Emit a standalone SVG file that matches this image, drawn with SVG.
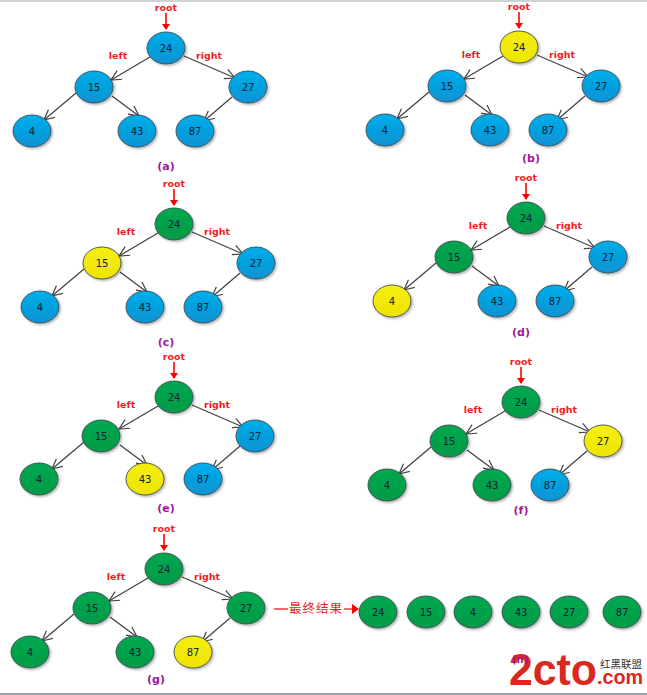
<svg xmlns="http://www.w3.org/2000/svg" xmlns:xlink="http://www.w3.org/1999/xlink" width="647" height="695" viewBox="0 0 647 695">
<style>
text{font-family:"DejaVu Sans","Liberation Sans",sans-serif;text-anchor:middle}
.n{font-size:10px;fill:#123}
.r{font-size:9.5px;font-weight:bold;fill:#f01c24}
.c{font-size:11px;font-weight:bold;fill:#a0189a}
.e{fill:none;stroke:#444;stroke-width:1.3;marker-end:url(#open)}
.ra{fill:none;stroke:#f00;stroke-width:1.6;marker-end:url(#red)}
ellipse{stroke:#3d4a50;stroke-width:.9;filter:url(#sh)}
.b{fill:url(#gb)}.g{fill:url(#gg)}.y{fill:url(#gy)}
.logo{font-family:"Liberation Sans",sans-serif;font-weight:bold;fill:#d9281e;text-anchor:start}
</style>
<defs>
<linearGradient id="gb" x1="0" y1="0" x2="0" y2="1"><stop offset="0" stop-color="#00aeea"/><stop offset="1" stop-color="#0a92d2"/></linearGradient>
<linearGradient id="gg" x1="0" y1="0" x2="0" y2="1"><stop offset="0" stop-color="#00a850"/><stop offset="1" stop-color="#079a46"/></linearGradient>
<linearGradient id="gy" x1="0" y1="0" x2="0" y2="1"><stop offset="0" stop-color="#f6ee10"/><stop offset="1" stop-color="#eee400"/></linearGradient>
<filter id="sh" x="-20%" y="-20%" width="150%" height="150%"><feDropShadow dx="1.5" dy="1.5" stdDeviation="1.2" flood-color="#000" flood-opacity=".3"/></filter>
<marker id="open" markerUnits="userSpaceOnUse" markerWidth="16" markerHeight="16" refX="11" refY="6" orient="auto"><path d="M1 1L11 6L1 11" fill="none" stroke="#444" stroke-width="1.2"/></marker>
<marker id="red" markerUnits="userSpaceOnUse" markerWidth="10" markerHeight="10" refX="5" refY="4" orient="auto"><path d="M0 0L6 4L0 8Z" fill="#f00"/></marker>
<g id="edges">
<path class="ra" d="M166 13V29"/>
<path class="e" d="M150 57L111 80"/>
<path class="e" d="M184 56L235 78"/>
<path class="e" d="M76 93L44 120"/>
<path class="e" d="M112 96L139 116"/>
<path class="e" d="M232 97L204 121"/>
</g>
<g id="lbl">
<text class="r" x="166" y="11">root</text>
<text class="r" x="118" y="59">left</text>
<text class="r" x="209" y="59">right</text>
</g>
</defs>
<rect width="647" height="2" fill="#d0d3d6"/>
<rect y="693" width="647" height="2" fill="#9aa0ae"/>
<g id="connectors">
<use href="#edges"/>
<use href="#edges" transform="translate(353,-1)"/>
<use href="#edges" transform="translate(8,176)"/>
<use href="#edges" transform="translate(360,170)"/>
<use href="#edges" transform="translate(8,349)"/>
<use href="#edges" transform="translate(355,354)"/>
<use href="#edges" transform="translate(-2,521)"/>
<path d="M274 609H288" stroke="#f00" stroke-width="1.2"/>
<path d="M344 609H354" stroke="#f00" stroke-width="1.2"/>
<path d="M352 604L359 609L352 614Z" fill="#f00"/>
</g>
<g id="labels">
<use href="#lbl"/>
<use href="#lbl" transform="translate(353,-1)"/>
<use href="#lbl" transform="translate(8,176)"/>
<use href="#lbl" transform="translate(360,170)"/>
<use href="#lbl" transform="translate(8,349)"/>
<use href="#lbl" transform="translate(355,354)"/>
<use href="#lbl" transform="translate(-2,521)"/>
<text class="c" x="166" y="170">(a)</text>
<text class="c" x="531" y="162">(b)</text>
<text class="c" x="166" y="346">(c)</text>
<text class="c" x="521" y="336">(d)</text>
<text class="c" x="166" y="512">(e)</text>
<text class="c" x="521" y="514">(f)</text>
<text class="c" x="156" y="683">(g)</text>
<text x="316" y="613" style="font-family:'Noto Sans CJK SC',sans-serif;font-size:12.5px;fill:#f01c24;letter-spacing:1px">最终结果</text>
</g>
<g id="a-24" transform="translate(166,48)"><ellipse class="b" rx="19" ry="16"/><text class="n" y="4">24</text></g>
<g id="a-15" transform="translate(94,87)"><ellipse class="b" rx="19" ry="16"/><text class="n" y="4">15</text></g>
<g id="a-27" transform="translate(248,87)"><ellipse class="b" rx="19" ry="16"/><text class="n" y="4">27</text></g>
<g id="a-4" transform="translate(32,131)"><ellipse class="b" rx="19" ry="16"/><text class="n" y="4">4</text></g>
<g id="a-43" transform="translate(137,131)"><ellipse class="b" rx="19" ry="16"/><text class="n" y="4">43</text></g>
<g id="a-87" transform="translate(195,131)"><ellipse class="b" rx="19" ry="16"/><text class="n" y="4">87</text></g>
<g id="b-24" transform="translate(519,47)"><ellipse class="y" rx="19" ry="16"/><text class="n" y="4">24</text></g>
<g id="b-15" transform="translate(447,86)"><ellipse class="b" rx="19" ry="16"/><text class="n" y="4">15</text></g>
<g id="b-27" transform="translate(601,86)"><ellipse class="b" rx="19" ry="16"/><text class="n" y="4">27</text></g>
<g id="b-4" transform="translate(385,130)"><ellipse class="b" rx="19" ry="16"/><text class="n" y="4">4</text></g>
<g id="b-43" transform="translate(490,130)"><ellipse class="b" rx="19" ry="16"/><text class="n" y="4">43</text></g>
<g id="b-87" transform="translate(548,130)"><ellipse class="b" rx="19" ry="16"/><text class="n" y="4">87</text></g>
<g id="c-24" transform="translate(174,224)"><ellipse class="g" rx="19" ry="16"/><text class="n" y="4">24</text></g>
<g id="c-15" transform="translate(102,263)"><ellipse class="y" rx="19" ry="16"/><text class="n" y="4">15</text></g>
<g id="c-27" transform="translate(256,263)"><ellipse class="b" rx="19" ry="16"/><text class="n" y="4">27</text></g>
<g id="c-4" transform="translate(40,307)"><ellipse class="b" rx="19" ry="16"/><text class="n" y="4">4</text></g>
<g id="c-43" transform="translate(145,307)"><ellipse class="b" rx="19" ry="16"/><text class="n" y="4">43</text></g>
<g id="c-87" transform="translate(203,307)"><ellipse class="b" rx="19" ry="16"/><text class="n" y="4">87</text></g>
<g id="d-24" transform="translate(526,218)"><ellipse class="g" rx="19" ry="16"/><text class="n" y="4">24</text></g>
<g id="d-15" transform="translate(454,257)"><ellipse class="g" rx="19" ry="16"/><text class="n" y="4">15</text></g>
<g id="d-27" transform="translate(608,257)"><ellipse class="b" rx="19" ry="16"/><text class="n" y="4">27</text></g>
<g id="d-4" transform="translate(392,301)"><ellipse class="y" rx="19" ry="16"/><text class="n" y="4">4</text></g>
<g id="d-43" transform="translate(497,301)"><ellipse class="b" rx="19" ry="16"/><text class="n" y="4">43</text></g>
<g id="d-87" transform="translate(555,301)"><ellipse class="b" rx="19" ry="16"/><text class="n" y="4">87</text></g>
<g id="e-24" transform="translate(174,397)"><ellipse class="g" rx="19" ry="16"/><text class="n" y="4">24</text></g>
<g id="e-15" transform="translate(101,436)"><ellipse class="g" rx="19" ry="16"/><text class="n" y="4">15</text></g>
<g id="e-27" transform="translate(255,436)"><ellipse class="b" rx="19" ry="16"/><text class="n" y="4">27</text></g>
<g id="e-4" transform="translate(39,479)"><ellipse class="g" rx="19" ry="16"/><text class="n" y="4">4</text></g>
<g id="e-43" transform="translate(145,479)"><ellipse class="y" rx="19" ry="16"/><text class="n" y="4">43</text></g>
<g id="e-87" transform="translate(203,479)"><ellipse class="b" rx="19" ry="16"/><text class="n" y="4">87</text></g>
<g id="f-24" transform="translate(521,402)"><ellipse class="g" rx="19" ry="16"/><text class="n" y="4">24</text></g>
<g id="f-15" transform="translate(449,441)"><ellipse class="g" rx="19" ry="16"/><text class="n" y="4">15</text></g>
<g id="f-27" transform="translate(603,441)"><ellipse class="y" rx="19" ry="16"/><text class="n" y="4">27</text></g>
<g id="f-4" transform="translate(387,485)"><ellipse class="g" rx="19" ry="16"/><text class="n" y="4">4</text></g>
<g id="f-43" transform="translate(492,485)"><ellipse class="g" rx="19" ry="16"/><text class="n" y="4">43</text></g>
<g id="f-87" transform="translate(550,485)"><ellipse class="b" rx="19" ry="16"/><text class="n" y="4">87</text></g>
<g id="g-24" transform="translate(164,569)"><ellipse class="g" rx="19" ry="16"/><text class="n" y="4">24</text></g>
<g id="g-15" transform="translate(92,608)"><ellipse class="g" rx="19" ry="16"/><text class="n" y="4">15</text></g>
<g id="g-27" transform="translate(246,608)"><ellipse class="g" rx="19" ry="16"/><text class="n" y="4">27</text></g>
<g id="g-4" transform="translate(30,652)"><ellipse class="g" rx="19" ry="16"/><text class="n" y="4">4</text></g>
<g id="g-43" transform="translate(135,652)"><ellipse class="g" rx="19" ry="16"/><text class="n" y="4">43</text></g>
<g id="g-87" transform="translate(193,652)"><ellipse class="y" rx="19" ry="16"/><text class="n" y="4">87</text></g>
<g id="n-24" transform="translate(378,612)"><ellipse class="g" rx="19" ry="16"/><text class="n" y="4">24</text></g>
<g id="n-15" transform="translate(426,612)"><ellipse class="g" rx="19" ry="16"/><text class="n" y="4">15</text></g>
<g id="n-4" transform="translate(473,612)"><ellipse class="g" rx="19" ry="16"/><text class="n" y="4">4</text></g>
<g id="n-43" transform="translate(521,612)"><ellipse class="g" rx="19" ry="16"/><text class="n" y="4">43</text></g>
<g id="n-27" transform="translate(569,612)"><ellipse class="g" rx="19" ry="16"/><text class="n" y="4">27</text></g>
<g id="n-87" transform="translate(622,612)"><ellipse class="g" rx="19" ry="16"/><text class="n" y="4">87</text></g>
<g id="logo">
<text class="logo" x="509" y="685" font-size="44" textLength="88" lengthAdjust="spacingAndGlyphs">2cto</text>
<text class="logo" x="597" y="684" font-size="21" textLength="46" lengthAdjust="spacingAndGlyphs">.com</text>
<text x="621" y="668" style="font-family:'Noto Sans CJK SC',sans-serif;font-size:10.5px;fill:#333">红黑联盟</text>
<text class="c" x="520" y="663" style="font-size:10px">(n)</text>
</g>
</svg>
